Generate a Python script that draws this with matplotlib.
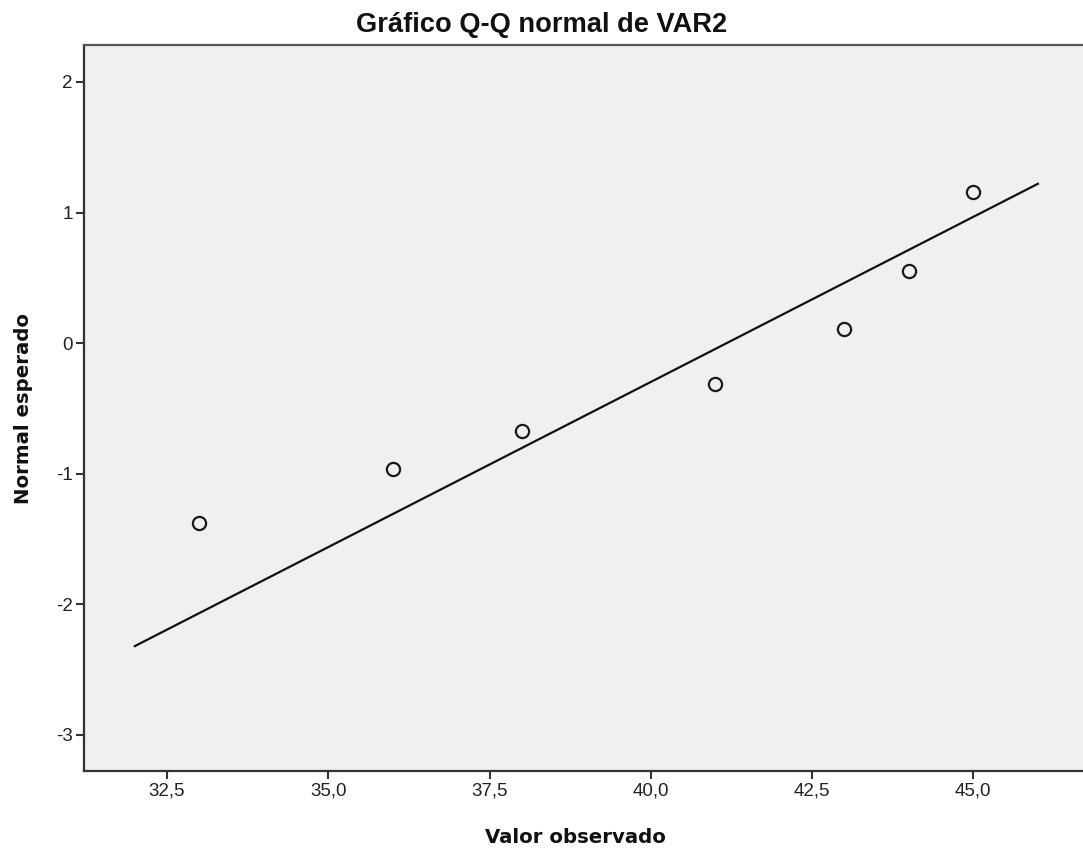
import matplotlib
matplotlib.use("Agg")
import matplotlib.pyplot as plt

obs_x = [33, 36, 38, 41, 43, 44, 45]
exp_y = [-1.38, -0.965, -0.675, -0.315, 0.105, 0.55, 1.155]

# recta de referencia
line_x = [32, 46]
line_y = [-2.32, 1.22]

x_ticks = [32.5, 35.0, 37.5, 40.0, 42.5, 45.0]
x_labels = ["32,5", "35,0", "37,5", "40,0", "42,5", "45,0"]
y_ticks = [2, 1, 0, -1, -2, -3]
y_labels = ["2", "1", "0", "-1", "-2", "-3"]

fig = plt.figure(figsize=(10.83, 8.52), dpi=100)
ax = fig.add_axes([0.0776, 0.0951, 0.9224, 0.8521])
ax.set_facecolor("#F0F0F0")

ax.plot(line_x, line_y, color="#111111", linewidth=1.6, zorder=2)
ax.plot(obs_x, exp_y, linestyle="none", marker="o", markersize=9.5,
        markerfacecolor="none", markeredgecolor="#1a1a1a",
        markeredgewidth=1.6, zorder=3)

ax.set_xlim(31.213, 46.70)
ax.set_ylim(-3.276, 2.283)
ax.set_xticks(x_ticks)
ax.set_xticklabels(x_labels, fontfamily="Liberation Sans", fontsize=13.5)
ax.set_yticks(y_ticks)
ax.set_yticklabels(y_labels, fontfamily="Liberation Sans", fontsize=13.5)
ax.tick_params(direction="out", length=6, width=1.5, color="#333333",
               labelcolor="#222222", pad=2)

for side in ["left", "bottom", "top"]:
    ax.spines[side].set_color("#333333")
    ax.spines[side].set_linewidth(1.6)
ax.spines["top"].set_color("#555555")
ax.spines["right"].set_visible(False)

fig.text(0.5, 0.9624, "Gráfico Q-Q normal de VAR2", ha="center", va="baseline",
         fontfamily="Liberation Sans", fontweight="bold", fontsize=19.6,
         color="#111111")
fig.text(0.531, 0.0106, "Valor observado", ha="center", va="baseline",
         fontfamily="DejaVu Sans", fontweight="bold", fontsize=14.2,
         color="#111111")
fig.text(0.022, 0.521, "Normal esperado", ha="center", va="center",
         rotation=90, fontfamily="DejaVu Sans", fontweight="bold",
         fontsize=14.2, color="#111111")

fig.savefig("out.png", dpi=100)
